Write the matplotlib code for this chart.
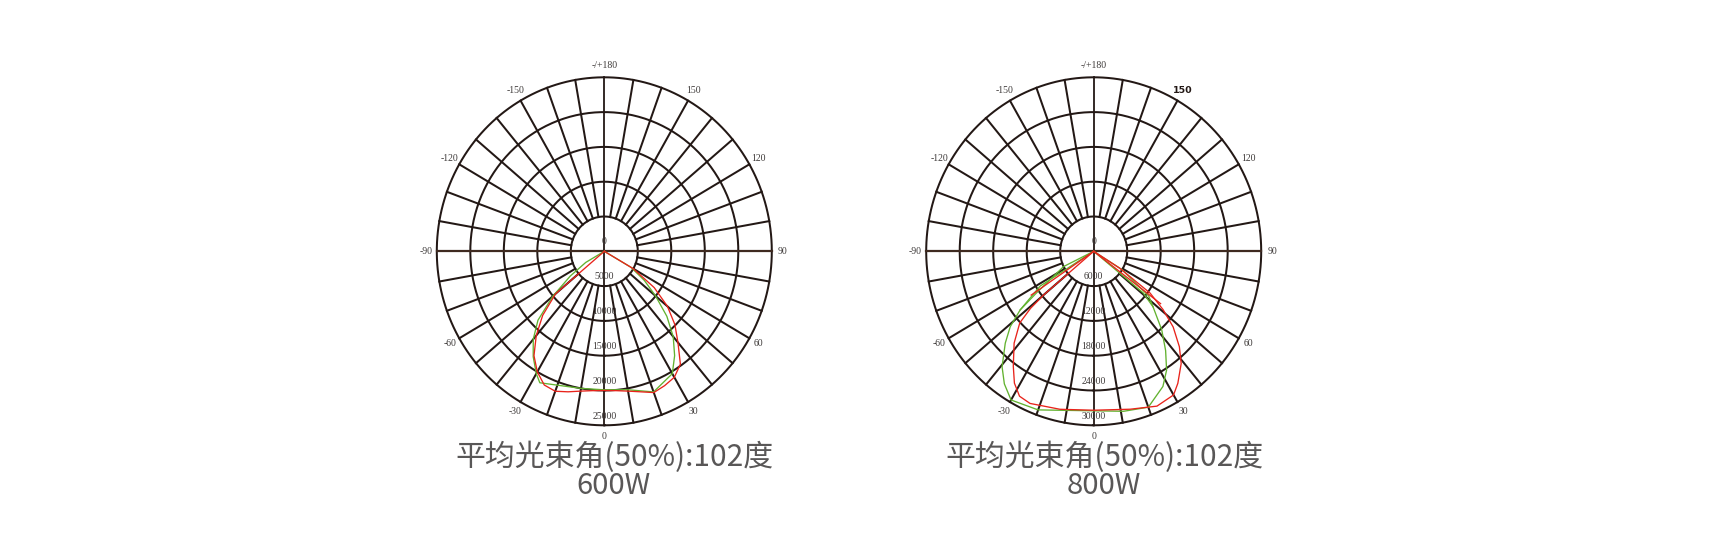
import numpy as np
import matplotlib.pyplot as plt

plt.rcParams['font.family'] = ['Noto Sans CJK SC', 'DejaVu Sans']

# chart texts
TITLE = '平均光束角(50%):102度'
POWERS = ['600W', '800W']
RMAX = [25000, 30000]
ANGLE_POS = [0, 30, 60, 90, 120, 150, 180, -150, -120, -90, -60, -30]
ANGLE_LABELS = ['0', '30', '60', '90', '120', '150', '-/+180',
                '-150', '-120', '-90', '-60', '-30']

# 600W curves (angle in degrees, intensity)
ANG_600_RED = [-55, -50, -45, -40, -35, -30, -25, -20, -15, -10, -5, 0,
               5, 10, 15, 20, 25, 30, 35, 40, 45, 50, 55, 60, 65]
VAL_600_RED = [0, 9500, 13000, 15800, 18300, 20000, 21200, 21400, 20900,
               20400, 20100, 20000, 20100, 20400, 20900, 21600, 21300,
               20900, 19800, 17100, 14900, 12300, 9100, 5000, 0]
ANG_600_GRN = [-65, -60, -55, -50, -45, -40, -35, -30, -27, -10, 0,
               10, 20, 30, 35, 40, 45, 50, 55, 60, 65]
VAL_600_GRN = [0, 3200, 6200, 10000, 14000, 16500, 18500, 20300, 21200,
               20000, 19900, 20200, 21500, 20300, 18300, 16000, 13200,
               10000, 7300, 4600, 0]

# 800W curves
ANG_800_RED = [-50, -50, -49, -47, -42, -36, -32, -28, -23.5, -12.5, 0,
               13.5, 23, 30, 33.5, 39, 43, 47.5, 51, 54.5, 58, 58]
VAL_800_RED = [0, 11700, 15000, 18100, 21300, 24500, 26800, 28300, 28600,
               27900, 27400, 28000, 29000, 28600, 27300, 24900, 22500,
               19300, 16000, 12400, 5500, 0]
ANG_800_GRN = [-58, -58, -52.5, -49, -45, -39.5, -35, -30, -20, 0, 11,
               20, 28, 32.5, 37, 42, 48, 51, 51]
VAL_800_GRN = [0, 11300, 16600, 19800, 22400, 25800, 27900, 29600, 29100,
               27500, 28100, 28600, 26400, 24300, 21400, 18200, 14300,
               11400, 0]
# second traces near the lamp axis (800W)
ANG_800_RED_B = [-56, -56, -50, 0, 53, 53]
VAL_800_RED_B = [13500, 6000, 0, 0, 0, 15000]
ANG_800_GRN_B = [-52.5, -55, -64, 0, 58, 52, 48]
VAL_800_GRN_B = [16600, 12500, 6000, 0, 6000, 12500, 14300]

RED = '#e8231b'
GREEN = '#62b22f'
GRID = '#231815'
TXT = '#3e3a39'


def draw_chart(ax, rmax, curves, bold150=False):
    ax.set_aspect('auto')
    ax.set_theta_zero_location('S')
    ax.set_theta_direction(1)
    ax.set_ylim(0, rmax)
    ax.set_xticks([])
    ax.set_yticks([])
    ax.grid(False)
    ax.spines['polar'].set_visible(False)
    ax.patch.set_alpha(0)

    step = rmax / 5
    t = np.linspace(0, 2 * np.pi, 400)
    for k in range(1, 6):
        ax.plot(t, np.full_like(t, step * k), color=GRID, lw=1.45,
                clip_on=False, zorder=2)
    for a in range(0, 360, 10):
        th = np.deg2rad(a)
        if a in (90, 270):
            ax.plot([th, th], [0, rmax], color='#3f2a20', lw=1.6,
                    clip_on=False, zorder=2)
        elif a in (0, 180):
            ax.plot([th, th], [0, rmax], color=GRID, lw=1.3,
                    clip_on=False, zorder=2)
        else:
            ax.plot([th, th], [step, rmax], color=GRID, lw=1.45,
                    clip_on=False, zorder=2)

    # angle labels
    for a, lab in zip(ANGLE_POS, ANGLE_LABELS):
        if bold150 and lab == '150':
            ax.text(np.deg2rad(a), rmax * 1.065, lab, ha='center',
                    va='center', fontsize=6.8, fontweight='bold',
                    family='DejaVu Sans', color='#231815', clip_on=False)
        else:
            ax.text(np.deg2rad(a), rmax * 1.065, lab, ha='center',
                    va='center', fontsize=7, family='Liberation Serif',
                    color=TXT, clip_on=False)

    # intensity labels
    ax.text(np.pi, rmax * 0.055, '0', ha='center', va='center', fontsize=7,
            family='Liberation Serif', color=TXT)
    for k in range(1, 6):
        ax.text(0, step * k - rmax * 0.053, '%d' % (step * k), ha='center',
                va='center', fontsize=7, family='Liberation Serif',
                color=TXT, zorder=3)

    for ang, val, col in curves:
        ax.plot(np.deg2rad(ang), val, color=col, lw=0.95, zorder=4,
                clip_on=False)


def main():
    fig = plt.figure(figsize=(17.2, 5.44), dpi=100)

    centers = [604.3, 1093.7]
    curve_sets = [
        [(ANG_600_GRN, VAL_600_GRN, GREEN), (ANG_600_RED, VAL_600_RED, RED)],
        [(ANG_800_GRN, VAL_800_GRN, GREEN), (ANG_800_GRN_B, VAL_800_GRN_B, GREEN),
         (ANG_800_RED, VAL_800_RED, RED), (ANG_800_RED_B, VAL_800_RED_B, RED)],
    ]
    rx, ry, cy = 167.5, 174.0, 251.3
    for i in range(2):
        ax = fig.add_axes([(centers[i] - rx) / 1720, (544 - cy - ry) / 544,
                           2 * rx / 1720, 2 * ry / 544], projection='polar')
        draw_chart(ax, RMAX[i], curve_sets[i], bold150=(i == 1))

    title_x = [614, 1104]
    for i in range(2):
        fig.text(title_x[i] / 1720, 1 - 457 / 544, TITLE, ha='center',
                 va='center', fontsize=21.5, color='#595757')
        fig.text(title_x[i] / 1720, 1 - 486 / 544, POWERS[i], ha='center',
                 va='center', fontsize=21, color='#595757')

    fig.savefig('out.png', dpi=100, facecolor='white')


if __name__ == "__main__":
    main()
